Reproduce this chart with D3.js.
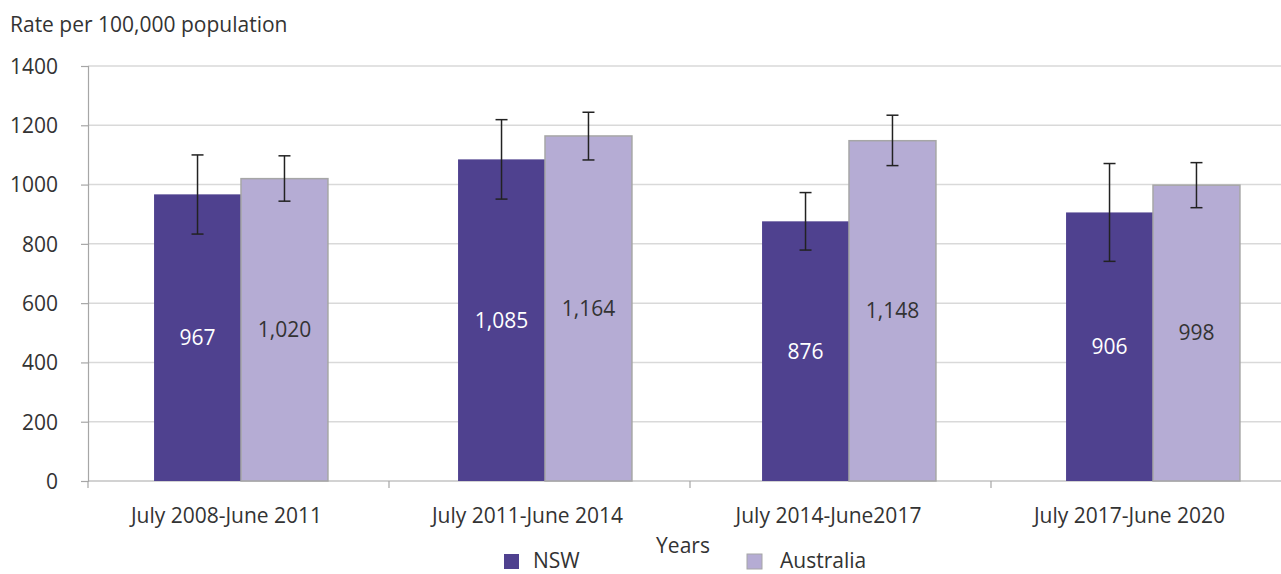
<!DOCTYPE html>
<html><head><meta charset="utf-8">
<script src="https://cdn.jsdelivr.net/npm/d3@7"></script>
<style>
body{margin:0;background:#fff;}
svg text{font-family:"Open Sans",sans-serif;fill:#333;}
</style></head>
<body><svg id="c" width="1281" height="574"></svg>
<script>
const categories = ["July 2008-June 2011","July 2011-June 2014","July 2014-June2017","July 2017-June 2020"];
const seriesNames = ["NSW","Australia"];
const nswValues = [967,1085,876,906];
const ausValues = [1020,1164,1148,998];
const nswLow = [833,951,779,741];
const nswHigh = [1100,1219,973,1071];
const ausLow = [944,1083,1064,922];
const ausHigh = [1097,1244,1234,1074];
const yTicks = [0,200,400,600,800,1000,1200,1400];
const yTitle = "Rate per 100,000 population";
const xTitle = "Years";

const colors = {NSW:"#4f418f", Australia:"#b5acd4"};
const fs = 21;
const svg = d3.select("#c");
const y = d3.scaleLinear().domain([0,1400]).range([481,66]);
const xAxisScale = d3.scaleBand().domain(categories).range([88,1292]);
const xBar = d3.scaleBand().domain(categories).range([89,1305]).paddingInner(0.428).paddingOuter(0.214);
const xSub = d3.scaleBand().domain(seriesNames).range([0,xBar.bandwidth()]);

// gridlines
svg.append("g").selectAll("line").data(yTicks.filter(d=>d>0)).join("line")
  .attr("x1",88).attr("x2",1281).attr("y1",d=>y(d)).attr("y2",d=>y(d))
  .attr("stroke","#d9d9d9").attr("stroke-width",1.5);

// y axis
const ya = svg.append("g").attr("transform","translate(88,0)")
  .call(d3.axisLeft(y).tickValues(yTicks).tickSize(7).tickPadding(23).tickFormat(d3.format("d")));
ya.select(".domain").attr("stroke","#a6a6a6").attr("stroke-width",1.2);
ya.selectAll(".tick line").attr("stroke","#a6a6a6").attr("stroke-width",1.2);
ya.selectAll(".tick text").attr("font-size",fs).attr("fill","#333").attr("dy","0.35em");

// x axis
const xa = svg.append("g").attr("transform","translate(0,481)")
  .call(d3.axisBottom(xAxisScale).tickSize(0).tickPadding(27));
xa.select(".domain").attr("stroke","#a6a6a6").attr("stroke-width",1.2).attr("d","M88,0H1281");
xa.selectAll(".tick text").attr("font-size",fs).attr("fill","#333").attr("dx",-12);
// boundary ticks
svg.append("g").selectAll("line").data(categories).join("line")
  .attr("x1",d=>xAxisScale(d)).attr("x2",d=>xAxisScale(d))
  .attr("y1",481).attr("y2",488).attr("stroke","#a6a6a6").attr("stroke-width",1.2);

const data = categories.map((c,i)=>({c, vals:[
  {s:"NSW",v:nswValues[i],lo:nswLow[i],hi:nswHigh[i]},
  {s:"Australia",v:ausValues[i],lo:ausLow[i],hi:ausHigh[i]}]}));

const g = svg.append("g").selectAll("g").data(data).join("g")
  .attr("transform",d=>`translate(${xBar(d.c)},0)`);
const b = g.selectAll("g").data(d=>d.vals).join("g");
b.append("rect")
  .attr("x",d=>xSub(d.s)).attr("width",xSub.bandwidth())
  .attr("y",d=>y(d.v)).attr("height",d=>y(0)-y(d.v))
  .attr("fill",d=>colors[d.s])
  .attr("stroke",d=>d.s==="Australia"?"#a6a6a6":"none").attr("stroke-width",1.5);
b.append("text")
  .attr("x",d=>xSub(d.s)+xSub.bandwidth()/2)
  .attr("y",d=>(y(d.v)+y(0))/2).attr("dy","0.35em")
  .attr("text-anchor","middle").attr("font-size",fs)
  .style("fill",d=>d.s==="NSW"?"#fff":"#333")
  .text(d=>d3.format(",")(d.v));
// error bars
const eb = b.append("g").attr("stroke","#222").attr("stroke-width",1.5);
eb.append("line").attr("x1",d=>xSub(d.s)+xSub.bandwidth()/2).attr("x2",d=>xSub(d.s)+xSub.bandwidth()/2)
  .attr("y1",d=>y(d.lo)).attr("y2",d=>y(d.hi));
eb.append("line").attr("x1",d=>xSub(d.s)+xSub.bandwidth()/2-6).attr("x2",d=>xSub(d.s)+xSub.bandwidth()/2+6)
  .attr("y1",d=>y(d.lo)).attr("y2",d=>y(d.lo));
eb.append("line").attr("x1",d=>xSub(d.s)+xSub.bandwidth()/2-6).attr("x2",d=>xSub(d.s)+xSub.bandwidth()/2+6)
  .attr("y1",d=>y(d.hi)).attr("y2",d=>y(d.hi));

// titles
svg.append("text").attr("x",10).attr("y",32).attr("font-size",fs).text(yTitle);
svg.append("text").attr("x",683).attr("y",553).attr("text-anchor","middle").attr("font-size",fs).text(xTitle);

// legend
const legX = {NSW:504, Australia:747};
const legTx = {NSW:29, Australia:33};
const lg = svg.append("g").selectAll("g").data(seriesNames).join("g")
  .attr("transform",d=>`translate(${legX[d]},554)`);
lg.append("rect").attr("width",15).attr("height",15).attr("fill",d=>colors[d])
  .attr("stroke",d=>d==="Australia"?"#a6a6a6":"none");
lg.append("text").attr("x",d=>legTx[d]).attr("y",14).attr("font-size",fs).text(d=>d);
</script></body></html>
